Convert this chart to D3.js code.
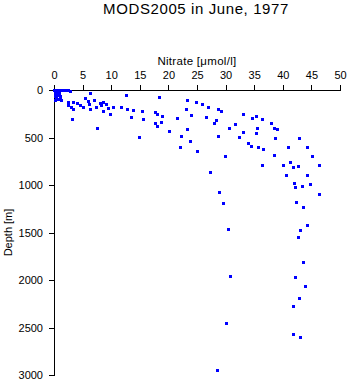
<!DOCTYPE html>
<html>
<head>
<meta charset="utf-8">
<script src="https://cdn.jsdelivr.net/npm/d3@7/dist/d3.min.js"></script>
<style>
  html, body { margin: 0; padding: 0; background: #fff; }
  svg { display: block; font-family: "Liberation Sans", Arial, Helvetica, sans-serif; }
  .axis text { font-size: 11px; fill: #000; }
  .axis path, .axis line { stroke: #000; stroke-width: 1; shape-rendering: crispEdges; }
</style>
</head>
<body>
<svg id="chart" width="348" height="384"></svg>
<script>
// Nitrate profile samples (µmol/l) and their depths (m)
const nitrate = [
  0, 0.17, 0.35, 0.7, 1.05, 1.4, 1.75, 2.1, 2.45, 2.8,
  0.17, 0.17, 0.35, 0.17, 0.52, 0.7, 1.05, 1.05, 1.22, 0.52, 0.87,
  6.29, 5.42, 5.86, 7.05, 6.17, 2.53, 3.37, 3.97, 2.5, 2.92, 3.27, 4.55, 5.02, 6.35, 7.4,
  7.99, 8.27, 8.62, 9.04, 9.39, 8.62, 9.74, 10.37, 11.8, 12.5, 12.81, 13.86, 13.51, 15.3,
  15.56, 14.83, 3.2, 7.57, 18.41, 17.71, 18.06, 18.93, 18.71, 17.71, 18.06, 20.1, 21.45,
  22.26, 23.3, 23.16, 23.3, 23.83, 22.03, 24.0, 24.88, 25.84, 26.98, 28.62, 29.25, 26.63,
  28.32, 28.02, 28.72, 25.05, 29.95, 27.36, 28.9, 29.49, 30.47, 30.77, 30.02, 28.55,
  30.65, 31.7, 33.1, 34.7, 35.31, 36.42, 35.54, 33.04, 35.23, 32.4, 33.97, 34.49, 35.72,
  36.59, 37.99, 38.51, 39.04, 38.58, 42.88, 40.86, 44.28, 38.51, 45.16, 41.29, 40.09,
  36.28, 42.74, 41.84, 46.38, 40.61, 44.28, 42.01, 42.19, 43.41, 44.81, 46.38, 42.36,
  43.58, 44.28, 42.95, 42.71, 43.58, 42.19, 43.93, 42.88, 41.84, 41.84, 42.95
];
const depth = [
  0, 0, 10, 0, 0, 0, 0, 0, 0, 10,
  30, 63, 84, 105, 53, 95, 63, 90, 105, 21, 32,
  28, 79, 111, 105, 147, 129, 129, 132, 153, 182, 203, 158, 184, 203, 184,
  137, 158, 129, 149, 186, 224, 249, 177, 177, 56, 203, 214, 281, 226,
  308, 498, 308, 403, 77, 235, 253, 276, 332, 351, 382, 435, 298,
  487, 107, 203, 413, 540, 600, 265, 129, 151, 182, 203, 224, 287,
  316, 351, 487, 645, 698, 858, 1077, 1193, 1466, 1961, 2456, 2951,
  398, 356, 251, 293, 277, 300, 405, 445, 449, 498, 556, 593, 603,
  624, 351, 403, 411, 500, 505, 603, 600, 687, 695, 753, 789,
  793, 800, 811, 793, 898, 895, 982, 1024, 1014, 993, 1095, 1182,
  1228, 1424, 1477, 1547, 1807, 1972, 2066, 2193, 2271, 2572, 2603
];
const xTicks = [0, 5, 10, 15, 20, 25, 30, 35, 40, 45, 50];
const yTicks = [0, 500, 1000, 1500, 2000, 2500, 3000];

const title = "MODS2005 in June, 1977";
const xLabel = "Nitrate [\u03bcmol/l]";
const yLabel = "Depth [m]";

const svg = d3.select("#chart");
const plot = { left: 54, right: 340, top: 90, bottom: 375 };

const x = d3.scaleLinear().domain([0, 50]).range([plot.left, plot.right]);
const y = d3.scaleLinear().domain([0, 3000]).range([plot.top, plot.bottom]);

// Title
svg.append("text")
  .attr("x", 196).attr("y", 14)
  .attr("text-anchor", "middle")
  .attr("font-size", "15px")
  .attr("letter-spacing", "0.6px")
  .text(title);

// Nitrate axis along the top
svg.append("g")
  .attr("class", "axis")
  .attr("transform", `translate(0,${plot.top})`)
  .call(d3.axisTop(x).tickValues(xTicks).tickSize(5).tickSizeOuter(0).tickPadding(6).tickFormat(d3.format("d")));

svg.append("text")
  .attr("x", (plot.left + plot.right) / 2).attr("y", 65)
  .attr("text-anchor", "middle")
  .attr("font-size", "11.5px")
  .attr("letter-spacing", "0.3px")
  .text(xLabel);

// Depth axis on the left, increasing downward
svg.append("g")
  .attr("class", "axis")
  .attr("transform", `translate(${plot.left},0)`)
  .call(d3.axisLeft(y).tickValues(yTicks).tickSize(5).tickSizeOuter(0).tickPadding(6).tickFormat(d3.format("d")));

svg.append("text")
  .attr("transform", `translate(12,${(plot.top + plot.bottom) / 2}) rotate(-90)`)
  .attr("text-anchor", "middle")
  .attr("font-size", "11px")
  .text(yLabel);

// Sample markers
const pts = nitrate.map((n, i) => ({ n, d: depth[i] }));
svg.append("g")
  .selectAll("rect")
  .data(pts)
  .join("rect")
  .attr("x", p => Math.round(x(p.n)) - 1)
  .attr("y", p => Math.round(y(p.d)) - 1)
  .attr("width", 3)
  .attr("height", 3)
  .attr("fill", "#0000ff")
  .attr("shape-rendering", "crispEdges");
</script>
</body>
</html>
